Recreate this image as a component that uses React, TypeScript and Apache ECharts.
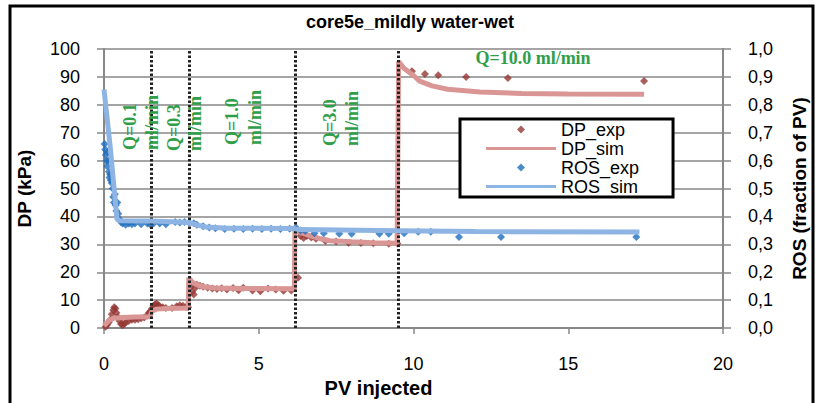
import React, { useEffect, useRef } from 'react';
import * as echarts from 'echarts';

// ---- data ----
const chartTitle = 'core5e_mildly water-wet';
const rateSwitchPV = [1.52, 2.75, 6.17, 9.5];
const rateLabels = ['Q=0.1', 'Q=0.3', 'Q=1.0', 'Q=3.0'];
const rateUnit = 'ml/min';
const lastRateLabel = 'Q=10.0 ml/min';
const legendNames = ['DP_exp', 'DP_sim', 'ROS_exp', 'ROS_sim'];

const dpExp: number[][] = [
  [0.05, 0.5], [0.1, 1.2], [0.15, 2], [0.2, 3], [0.25, 5], [0.3, 6.5], [0.33, 7.5], [0.37, 7],
  [0.4, 5.5], [0.45, 4], [0.5, 2.5], [0.55, 1.5], [0.6, 1], [0.65, 1.5], [0.7, 2], [0.8, 2.5],
  [0.9, 3], [1.0, 3], [1.1, 3.2], [1.2, 3.5], [1.3, 3.8], [1.4, 4.5], [1.45, 5.5],
  [1.5, 6], [1.55, 7], [1.6, 8], [1.65, 8.5], [1.7, 8.8], [1.75, 8.2], [1.8, 7.8], [1.9, 7.5],
  [2.0, 7.2], [2.2, 7.2], [2.35, 7.8], [2.45, 8.2], [2.55, 8], [2.65, 7.6], [2.72, 7.5],
  [2.78, 16], [2.82, 15], [2.85, 13], [2.9, 12], [2.95, 14.5], [3.0, 15.5], [3.1, 15.2],
  [3.2, 14.8], [3.35, 14.5], [3.5, 14.2], [3.65, 14], [3.8, 14.3], [3.97, 13.8], [4.17, 14.4],
  [4.35, 13.6], [4.5, 14.5], [4.8, 13.5], [5.05, 13.2], [5.3, 14.2], [5.55, 13.8], [5.8, 13.4],
  [6.05, 13.5],
  [6.27, 18], [6.35, 33], [6.45, 32.3], [6.55, 33], [6.7, 32.5], [6.85, 32], [7.15, 31.2],
  [7.5, 31], [7.9, 30.6], [8.3, 30.5], [8.7, 30.4], [9.2, 30.2], [9.48, 30.3],
  [9.95, 92], [10.37, 91], [10.8, 90.6], [11.7, 90], [13.05, 89.6], [17.45, 88.5],
];

const dpSim: number[][] = [
  [0, 0.8], [0.1, 2], [0.2, 3], [0.3, 3.5], [0.6, 3.8], [1.0, 4.0], [1.48, 4.1],
  [1.55, 6.0], [1.7, 6.8], [2.0, 7.0], [2.72, 7.2],
  [2.74, 18], [2.85, 16.5], [3.0, 15.5], [3.2, 14.8], [3.6, 14.4], [4.5, 14.2], [6.15, 14.1],
  [6.17, 36], [6.3, 34.5], [6.55, 33.5], [7.0, 32], [7.3, 31.3], [8.0, 30.9], [8.7, 30.6], [9.47, 30.4],
  [9.52, 95.5], [9.7, 93], [10.0, 90.5], [10.2, 88.5], [10.6, 86.8], [11.1, 85.6], [12.15, 84.6],
  [13.5, 84.1], [15.0, 83.9], [17.45, 83.8],
];

const rosExp: number[][] = [
  [0.02, 0.66], [0.04, 0.64], [0.06, 0.62], [0.08, 0.6], [0.1, 0.58], [0.12, 0.63], [0.14, 0.6],
  [0.16, 0.56], [0.18, 0.54], [0.2, 0.55], [0.22, 0.53], [0.25, 0.52], [0.28, 0.5], [0.3, 0.47],
  [0.32, 0.45], [0.35, 0.48], [0.38, 0.44], [0.4, 0.42], [0.43, 0.45], [0.46, 0.41], [0.5, 0.39],
  [0.55, 0.38], [0.6, 0.375], [0.7, 0.37], [0.8, 0.375], [0.9, 0.372], [1.0, 0.375], [1.2, 0.372],
  [1.4, 0.375], [1.5, 0.37], [1.6, 0.375], [1.8, 0.375], [2.0, 0.372], [2.3, 0.38], [2.45, 0.378],
  [2.6, 0.38], [2.75, 0.378], [2.9, 0.376], [3.0, 0.37], [3.2, 0.365], [3.4, 0.36], [3.6, 0.358],
  [3.9, 0.355], [4.2, 0.356], [4.5, 0.355], [4.8, 0.356], [5.1, 0.355], [5.4, 0.356], [5.7, 0.355],
  [6.0, 0.356], [6.2, 0.36], [6.35, 0.35], [6.5, 0.348], [6.8, 0.34], [7.1, 0.34], [7.6, 0.338],
  [8.0, 0.338], [8.9, 0.338], [9.2, 0.338], [9.7, 0.34], [10.15, 0.345], [10.56, 0.345],
  [11.47, 0.326], [12.83, 0.326], [17.2, 0.326],
];

const rosSim: number[][] = [
  [0, 0.855], [0.2, 0.65], [0.42, 0.39], [0.5, 0.385], [1.5, 0.384], [2.0, 0.382], [2.75, 0.378],
  [3.0, 0.37], [3.3, 0.362], [4.0, 0.358], [6.15, 0.357], [6.3, 0.353], [9.5, 0.349], [12.0, 0.346],
  [17.3, 0.344],
];

const FONT = '"Liberation Sans", Arial, Helvetica, sans-serif';
const SERIF = '"Liberation Serif", "Times New Roman", serif';
const GREEN = '#2f9e48';
const GRID_GRAY = '#878787';
const DIAMOND_ICON = 'path://M0,-1L1,0L0,1L-1,0Z';
const LINE_ICON = 'path://M0,0H70V3H0Z';

const annotPos = [
  { qx: 130, mx: 152, y: 150 },
  { qx: 174, mx: 195, y: 151 },
  { qx: 232, mx: 255, y: 145 },
  { qx: 330, mx: 352, y: 146 },
];

export default function App() {
  const ref = useRef<HTMLDivElement>(null);
  useEffect(() => {
    if (!ref.current) return;
    const chart = echarts.init(ref.current, undefined, { renderer: 'svg' });

    const annotTexts: any[] = [];
    rateLabels.forEach((lab, i) => {
      const p = annotPos[i];
      annotTexts.push({
        type: 'text', x: p.qx, y: p.y, rotation: Math.PI / 2, z: 100,
        style: { text: lab, fill: GREEN, font: `bold 18px ${SERIF}`, textAlign: 'left', textVerticalAlign: 'middle' },
      });
      annotTexts.push({
        type: 'text', x: p.mx, y: p.y, rotation: Math.PI / 2, z: 100,
        style: { text: rateUnit, fill: GREEN, font: `bold 18px ${SERIF}`, textAlign: 'left', textVerticalAlign: 'middle' },
      });
    });
    annotTexts.push({
      type: 'text', x: 533, y: 58, z: 100,
      style: { text: lastRateLabel, fill: GREEN, font: `bold 18px ${SERIF}`, textAlign: 'center', textVerticalAlign: 'middle' },
    });

    const option: any = {
      animation: false,
      backgroundColor: '#fff',
      title: {
        text: chartTitle,
        left: 'center',
        top: 13,
        padding: 0,
        textStyle: { fontSize: 18, fontWeight: 'bold', fontFamily: FONT, color: '#000' },
      },
      grid: { left: 104, right: 97, top: 49, bottom: 69, containLabel: false },
      legend: {
        orient: 'vertical',
        left: 460,
        top: 119,
        itemWidth: 70,
        itemHeight: 8,
        itemGap: 0,
        padding: [1, 34, 1, 26],
        borderColor: '#000',
        borderWidth: 3,
        backgroundColor: '#fff',
        symbolKeepAspect: true,
        textStyle: { fontSize: 18, lineHeight: 19, color: '#000', fontFamily: FONT },
        data: legendNames.map((n) => ({
          name: n,
          icon: n.endsWith('_exp') ? DIAMOND_ICON : LINE_ICON,
        })),
      },
      xAxis: {
        type: 'value',
        min: 0,
        max: 20,
        interval: 5,
        name: 'PV injected',
        nameLocation: 'middle',
        nameGap: 45,
        nameTextStyle: { fontSize: 20, fontWeight: 'bold', fontFamily: FONT, color: '#000', padding: [0, 70, 0, 0] },
        axisLine: { show: true, lineStyle: { color: GRID_GRAY, width: 2 } },
        axisTick: { show: true, length: 6, lineStyle: { color: GRID_GRAY, width: 1.5 } },
        axisLabel: { fontSize: 18, color: '#000', fontFamily: FONT, margin: 27 },
        splitLine: { show: false },
      },
      yAxis: [
        {
          type: 'value',
          min: 0,
          max: 100,
          interval: 10,
          position: 'left',
          name: 'DP (kPa)',
          nameLocation: 'middle',
          nameGap: 70,
          nameTextStyle: { fontSize: 19, fontWeight: 'bold', fontFamily: FONT, color: '#000' },
          axisLine: { show: true, lineStyle: { color: GRID_GRAY, width: 2 } },
          axisTick: { show: true, length: 7, lineStyle: { color: GRID_GRAY, width: 1.5 } },
          axisLabel: { fontSize: 18, color: '#000', fontFamily: FONT, margin: 24 },
          splitLine: { show: true, lineStyle: { color: GRID_GRAY, width: 1.5 } },
        },
        {
          type: 'value',
          min: 0,
          max: 1,
          interval: 0.1,
          position: 'right',
          name: 'ROS (fraction of PV)',
          nameLocation: 'middle',
          nameGap: 67,
          nameTextStyle: { fontSize: 19, fontWeight: 'bold', fontFamily: FONT, color: '#000' },
          axisLine: { show: true, lineStyle: { color: GRID_GRAY, width: 2 } },
          axisTick: { show: true, length: 8, lineStyle: { color: GRID_GRAY, width: 1.5 } },
          axisLabel: {
            fontSize: 18, color: '#000', fontFamily: FONT, margin: 25,
            formatter: (v: number) => v.toFixed(1).replace('.', ','),
          },
          splitLine: { show: false },
        },
      ],
      series: [
        {
          name: 'DP_exp',
          type: 'scatter',
          yAxisIndex: 0,
          symbol: 'diamond',
          symbolSize: 8,
          itemStyle: { color: '#953735' },
          data: dpExp,
          z: 2,
          markLine: {
            silent: true,
            symbol: ['none', 'none'],
            label: { show: false },
            lineStyle: { color: '#222', type: [2.5, 2], width: 3 },
            data: rateSwitchPV.map((v) => ({ xAxis: v })),
          },
        },
        {
          name: 'DP_sim',
          type: 'line',
          yAxisIndex: 0,
          symbol: 'none',
          showSymbol: false,
          lineStyle: { color: '#DA9694', width: 5 },
          itemStyle: { color: '#DA9694' },
          data: dpSim,
          z: 3,
        },
        {
          name: 'ROS_exp',
          type: 'scatter',
          yAxisIndex: 1,
          symbol: 'diamond',
          symbolSize: 8,
          itemStyle: { color: '#1F6EBE' },
          data: rosExp,
          z: 4,
        },
        {
          name: 'ROS_sim',
          type: 'line',
          yAxisIndex: 1,
          symbol: 'none',
          showSymbol: false,
          lineStyle: { color: '#8EB4E3', width: 5 },
          itemStyle: { color: '#8EB4E3' },
          data: rosSim,
          z: 5,
        },
      ],
      graphic: [
        {
          type: 'rect',
          shape: { x: 10, y: 6, width: 803, height: 430 },
          style: { fill: 'none', stroke: '#000', lineWidth: 3 },
          z: 100,
          silent: true,
        },
        ...annotTexts,
      ],
    };
    chart.setOption(option);
    return () => chart.dispose();
  }, []);
  return (
    <div
      ref={ref}
      style={{ position: 'absolute', left: 0, top: 0, width: 820, height: 403 }}
    />
  );
}
